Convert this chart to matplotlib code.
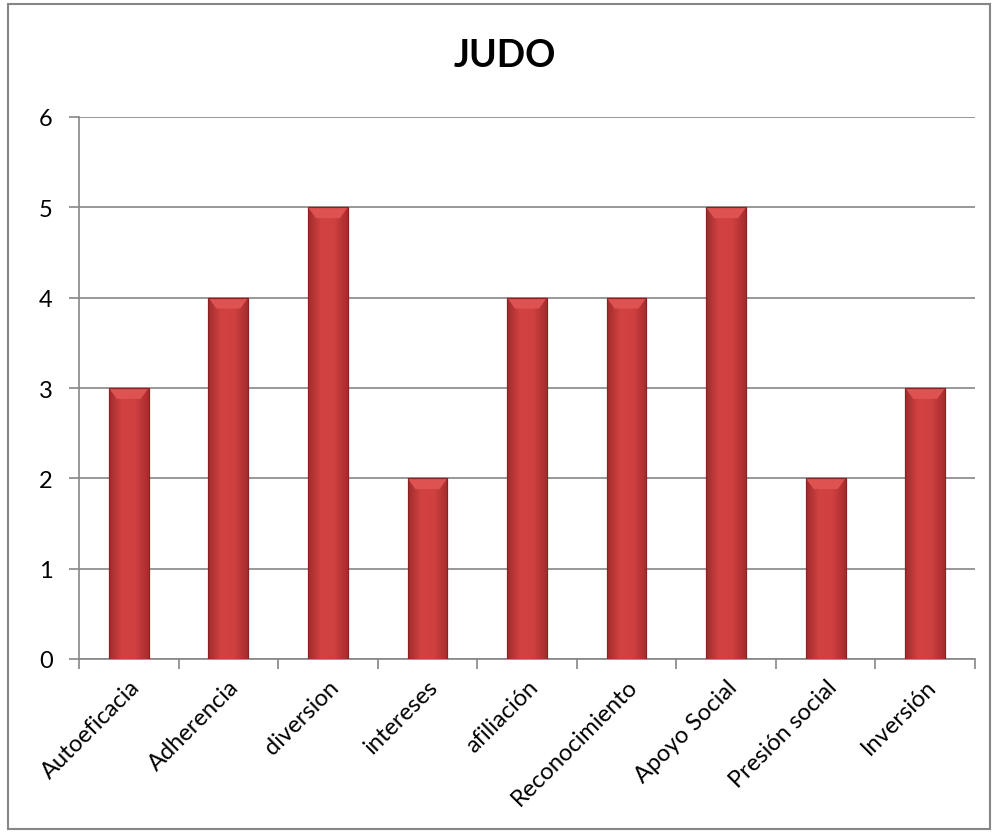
import matplotlib.pyplot as plt
import numpy as np
from matplotlib.patches import Rectangle, Polygon
from matplotlib.colors import LinearSegmentedColormap

categories = ["Autoeficacia", "Adherencia", "diversion", "intereses", "afiliación",
              "Reconocimiento", "Apoyo Social", "Presión social", "Inversión"]
values = [3, 4, 5, 2, 4, 4, 5, 2, 3]
yticks = [0, 1, 2, 3, 4, 5, 6]

plt.rcParams["font.family"] = ["Lato", "DejaVu Sans"]

GRAY = "#868686"

fig = plt.figure(figsize=(9.94, 8.37), dpi=100)
ax = fig.add_axes([79 / 994, 1 - 660 / 837, (975 - 79) / 994, (660 - 118) / 837])

x = np.arange(len(categories))
bars = ax.bar(x, values, width=0.4, color="#C0393A", edgecolor="#8E2424", linewidth=0.8, zorder=3)

# horizontal shading to mimic the bevelled Excel bars
grad = np.linspace(0, 1, 64)
cmap = LinearSegmentedColormap.from_list("bar", ["#A02C2C", "#D34243", "#CF4041", "#A52D2D"])
for b in bars:
    x0, y0 = b.get_x(), b.get_y()
    w, h = b.get_width(), b.get_height()
    im = ax.imshow(grad[np.newaxis, :], cmap=cmap, aspect="auto",
                   extent=[x0, x0 + w, y0, y0 + h], zorder=3.5)
    im.set_clip_path(b)
    # lighter bevel on the top of each bar
    bh = 0.12
    ax.add_patch(Polygon([(x0, y0 + h), (x0 + w, y0 + h), (x0 + w - w * 0.2, y0 + h - bh),
                          (x0 + w * 0.2, y0 + h - bh)],
                         facecolor="#DE5252", edgecolor="none", zorder=4))
    ax.add_patch(Rectangle((x0, y0), w, h, facecolor="none", edgecolor="#8A2222",
                           linewidth=0.8, zorder=4.5))

ax.set_xlim(-0.5, len(categories) - 0.5)
ax.set_ylim(0, 6)
ax.set_yticks(yticks)
ax.yaxis.grid(True, color=GRAY, linewidth=1.2, zorder=0)
ax.set_axisbelow(True)

ax.set_xticks(np.arange(-0.5, len(categories), 1.0), minor=False)
ax.set_xticklabels([])
ax.set_xticks(x, minor=True)
ax.set_xticklabels(categories, minor=True, rotation=45, ha="right",
                   rotation_mode="anchor", fontsize=17)
ax.tick_params(axis="x", which="minor", length=0, pad=12)
ax.tick_params(axis="x", which="major", length=7, width=1.2, color=GRAY)
ax.tick_params(axis="y", length=7, width=1.2, color=GRAY, labelsize=17, pad=12)

for s in ["top", "right"]:
    ax.spines[s].set_visible(False)
for s in ["left", "bottom"]:
    ax.spines[s].set_color(GRAY)
    ax.spines[s].set_linewidth(1.2)

fig.text(505 / 994, 1 - 56 / 837, "JUDO", ha="center", va="center", fontsize=27, fontweight="bold")

fig.add_artist(Rectangle((8 / 994, 1 - 830 / 837), 982 / 994, 825 / 837,
                         transform=fig.transFigure, facecolor="none",
                         edgecolor=GRAY, linewidth=1.5))

fig.savefig("out.png", dpi=100)
